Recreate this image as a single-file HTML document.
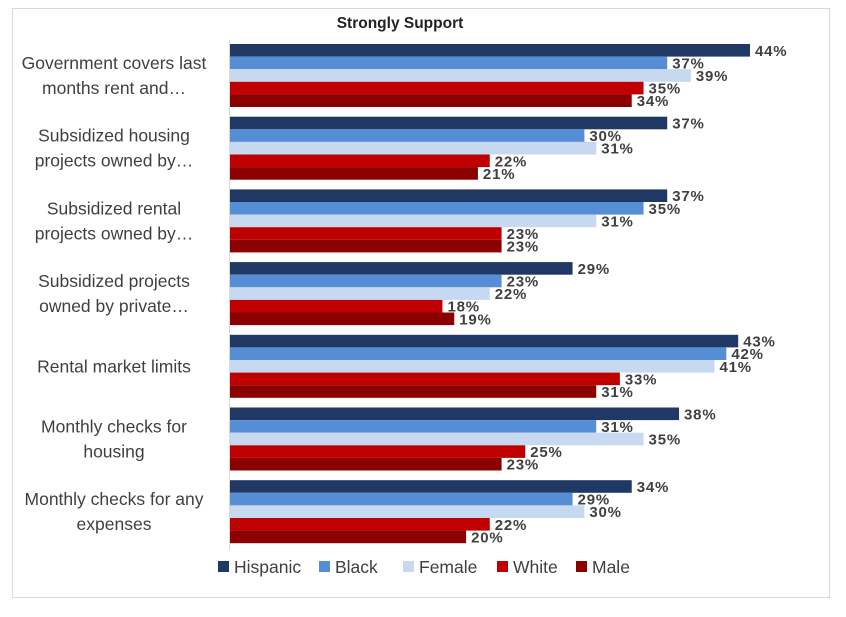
<!DOCTYPE html>
<html><head><meta charset="utf-8"><style>
body{margin:0;background:#fff;}
svg text{font-family:"Liberation Sans",Arial,sans-serif;}
</style></head><body>
<svg width="846" height="612" viewBox="0 0 846 612" xmlns="http://www.w3.org/2000/svg">
<rect x="12.5" y="8.5" width="817" height="589" fill="#fff" stroke="#d9d9d9"/>
<text x="400" y="28" text-anchor="middle" font-size="15.5" font-weight="bold" fill="#222">Strongly Support</text>
<g id="bars"></g>
<line x1="229.5" y1="40" x2="229.5" y2="550" stroke="#d9d9d9"/>
<g id="legend"></g>
</svg>
<script>
const categories=[["Government covers last","months rent and…"],["Subsidized housing","projects owned by…"],["Subsidized rental","projects owned by…"],["Subsidized projects","owned by private…"],["Rental market limits"],["Monthly checks for","housing"],["Monthly checks for any","expenses"]];
const seriesNames=["Hispanic","Black","Female","White","Male"];
const hispanic=[44,37,37,29,43,38,34];
const black=[37,30,35,23,42,31,29];
const female=[39,31,31,22,41,35,30];
const white=[35,22,23,18,33,25,22];
const male=[34,21,23,19,31,23,20];
const series=[hispanic,black,female,white,male];
const colors=["#1f3864","#558ed5","#c6d9f1","#c00000","#8b0000"];
const NS="http://www.w3.org/2000/svg";
const x0=229.5, scale=11.83, topY=44, groupH=72.7, barH=12.6;
const xs=v=>x0+v*scale;
const g=document.getElementById('bars');
function mk(tag,attrs,parent){const e=document.createElementNS(NS,tag);for(const k in attrs)e.setAttribute(k,attrs[k]);parent.appendChild(e);return e;}
categories.forEach((lines,ci)=>{
  const gy=topY+ci*groupH;
  const cy=gy+barH*2.5;
  const t=mk('text',{x:114,'text-anchor':'middle','font-size':17.5,fill:'#404040'},g);
  
  
  lines.forEach((ln,li)=>{const ts=mk('tspan',{x:114,y:cy+6+(li-(lines.length-1)/2)*25},t);ts.textContent=ln;});
  series.forEach((arr,si)=>{
    const y=gy+si*barH;
    const r=mk('rect',{x:x0,y:y,width:xs(arr[ci])-x0,height:barH,fill:colors[si]},g);
    
    
    const l=mk('text',{x:xs(arr[ci])+5,y:y+barH/2+5.5,'font-size':15,'font-weight':'bold',fill:'#404040','letter-spacing':'0.8'},g);
    
    
    l.textContent=arr[ci]+'%';
  });
});
const lg=document.getElementById('legend');
const lx=[218,319,403,497,576];
seriesNames.forEach((n,i)=>{
  const r=mk('rect',{x:lx[i],y:561,width:11,height:11,fill:colors[i]},lg);
  
  
  const t=mk('text',{x:lx[i]+16,y:573,'font-size':17.5,fill:'#404040'},lg);
  
  
  t.textContent=n;
});
</script>
</body></html>
